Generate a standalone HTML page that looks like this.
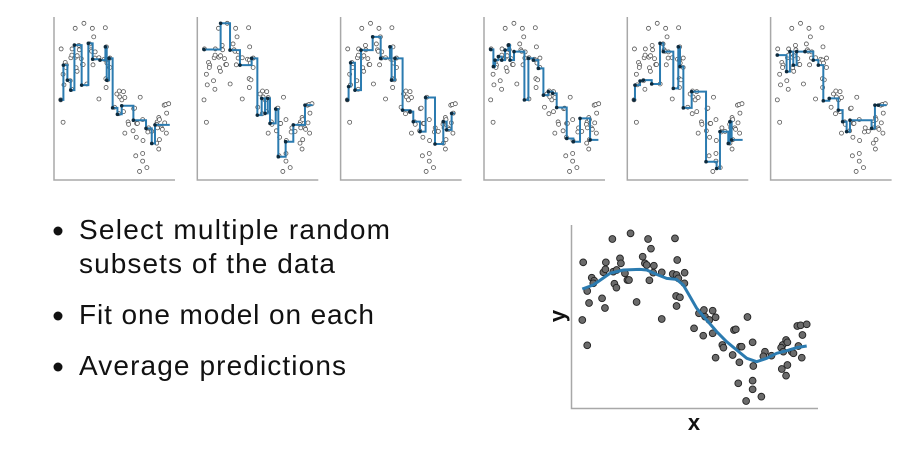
<!DOCTYPE html>
<html><head><meta charset="utf-8"><style>
html,body{margin:0;padding:0;background:#fff;}
svg{display:block;}
text{font-family:"Liberation Sans",sans-serif;}
</style></head><body>
<svg id="root" width="918" height="456" viewBox="0 0 918 456" xmlns="http://www.w3.org/2000/svg">
<g fill="#111" font-size="28">
  <circle cx="58" cy="231" r="4.5"/>
  <text x="79" y="239" textLength="311">Select multiple random</text>
  <text x="79" y="273" textLength="256">subsets of the data</text>
  <circle cx="58" cy="316" r="4.5"/>
  <text x="79" y="324" textLength="295">Fit one model on each</text>
  <circle cx="58" cy="367" r="4.5"/>
  <text x="79" y="375" textLength="267">Average predictions</text>
</g>
<g id="panels"></g>
<g id="big"></g>
</svg>
<script>
const pointsX=[0.04,0,0.22,0.3,0.22,0.42,0.53,0.49,0.88,1.01,0.94,1.05,1.03,1.34,1.43,1.52,1.38,1.53,1.68,1.72,1.9,2.01,2.08,2.15,2.42,2.69,2.79,2.87,2.93,3.06,2.99,3.19,3.16,3.54,3.54,4.03,4.13,4.23,4.2,4.28,4.18,4.2,4.35,4.56,4.55,4.98,5.2,5.42,5.39,5.47,5.81,5.66,5.94,5.81,5.94,6.24,6.29,6.76,6.84,6.7,7.03,7.0,7.1,7.36,7.59,7.62,7.59,7.59,7.3,6.95,7.98,8.14,8.07,8.43,8.89,9.08,9.14,8.93,9.08,9.14,8.86,8.96,9.33,9.41,9.58,9.73,9.81,10,9.63,9.78];
const pointsY=[1.73,0,-0.76,0.51,0.87,1.27,1.18,1.1,0.65,0.36,1.43,1.73,1.52,2.43,1.09,0.97,1.45,1.5,1.85,1.7,1.4,1.2,1.2,2.6,0.54,1.9,1.7,1.65,2.43,2.14,1.19,1.63,1.42,1.43,0.03,1.38,2.45,1.8,1.35,1.25,0.72,0.42,0.68,1.42,1.1,-0.25,0.2,0.3,-0.47,0.1,0.28,0,0.08,-0.4,-1.13,-0.75,-0.83,-0.3,-0.28,-1.05,-0.8,-1.27,-0.8,0.09,-0.67,-1.38,-1.82,-2.08,-2.43,-1.9,-2.3,-0.95,-1.09,-1.07,-1.47,-1.67,-1.35,-0.75,-0.6,-0.67,-0.83,-0.95,-0.95,-1.0,-0.18,-0.16,-0.45,-0.13,-0.78,-1.13];
const avgX=[0,0.49,1.23,1.83,2.57,2.87,3.31,3.76,4.2,4.5,4.8,5.1,5.54,5.99,6.43,6.88,7.33,7.77,8.22,8.66,9.11,9.55,10];
const avgY=[0.93,1.05,1.4,1.5,1.52,1.5,1.37,1.25,1.22,1.05,0.7,0.35,0,-0.35,-0.65,-0.9,-1.15,-1.25,-1.15,-1.0,-0.92,-0.83,-0.78];
const stepX1=[0,0.25,0.62,0.93,1.27,1.94,2.56,2.96,3.64,4.14,4.26,4.48,4.81,5.25,5.65,6.73,7.9,8.43,8.73,10.1];
const stepY1=[0,1.18,0.67,0.33,1.86,0.5,1.92,1.38,1.35,1.8,0.67,1.41,-0.27,-0.49,-0.2,-0.69,-0.97,-1.48,-0.85];
const stepX2=[0,1.54,2.41,3.33,4.41,4.94,5.34,5.65,5.9,6.11,6.64,6.88,7.56,8.27,9.35,10.06];
const stepY2=[1.71,2.6,1.69,1.18,1.41,-0.52,0.05,-0.46,0.05,-0.8,-0.31,-1.93,-1.42,-0.85,-0.18];
const stepX3=[0,0.12,0.31,0.71,1.27,2.35,3.09,3.95,4.1,4.41,5.12,5.8,6.11,6.73,7.25,8.12,8.89,9.2,9.66,9.97];
const stepY3=[0,0.45,1.26,0.33,1.69,2.14,1.41,1.8,0.67,1.41,-0.35,-0.4,-0.74,-1.08,0.08,-1.5,-0.74,-1.02,-0.46];
const stepX4=[0,0.25,0.4,0.71,1.02,1.33,1.64,1.79,2.16,3.12,3.49,3.95,4.41,4.88,5.34,5.74,6.11,7.04,7.65,8.27,9.2,9.97];
const stepY4=[1.71,1.13,1.35,1.47,1.35,1.69,1.86,1.35,1.64,0,1.41,1.35,1.07,0.16,0.28,0.22,-0.26,-1.31,-1.42,-0.63,-1.36];
const stepX5=[0,0.09,0.56,0.86,1.64,2.41,2.72,3.64,4.1,4.26,4.57,5.34,6.67,7.65,7.96,8.73,8.89,9.04,10.06];
const stepY5=[0,0.5,0.64,0.67,0.54,1.92,1.64,0.39,1.8,1.13,-0.27,0.28,-2.1,-2.33,-1.08,-1.48,-0.74,-1.36];
const stepX6=[0,0.86,1.17,1.48,1.79,2.56,3.33,3.8,4.26,4.81,5.65,6.05,6.42,6.73,8.73,9.04,9.35,10.12];
const stepY6=[1.52,0.96,1.64,1.18,1.64,1.64,1.35,1.18,-0.03,0.05,-0.35,-0.74,-1.08,-0.69,-0.97,-0.18,-0.18];
const stepXs=[stepX1,stepX2,stepX3,stepX4,stepX5,stepX6];
const stepYs=[stepY1,stepY2,stepY3,stepY4,stepY5,stepY6];

const NS='http://www.w3.org/2000/svg';
function mk(tag,attrs,parent){const e=document.createElementNS(NS,tag);for(const k in attrs)e.setAttribute(k,attrs[k]);parent.appendChild(e);return e;}

const panelsG=document.getElementById('panels');
const panelLeft=[54,197.3,340.6,484,627.3,770.6];
for(let p=0;p<6;p++){
  const ox=panelLeft[p];
  const sx=v=>ox+6.7+v*10.8;
  const sy=v=>23.3+(2.6-v)*29.45;
  const g=mk('g',{},panelsG);
  
  
  const ax=mk('path',{d:`M${ox},17 V180 H${ox+121}`,fill:'none',stroke:'#a8a8a8','stroke-width':1.5},g);
  
  
  for(let i=0;i<pointsX.length;i++){
    const c=mk('circle',{cx:sx(pointsX[i]),cy:sy(pointsY[i]),r:2,fill:'#fff',stroke:'#555','stroke-width':0.8},g);
    
    
  }
  const xs=stepXs[p],ys=stepYs[p];
  let d=`M${sx(xs[0])},${sy(ys[0])}`;
  for(let i=0;i<ys.length;i++){
    d+=` H${sx(xs[i+1])}`;
    if(i+1<ys.length)d+=` V${sy(ys[i+1])}`;
  }
  const pl=mk('path',{d:d,fill:'none',stroke:'#2b7bb0','stroke-width':2},g);
  
  
  for(let i=0;i<ys.length;i++){
    const c=mk('circle',{cx:sx(xs[i]),cy:sy(ys[i]),r:1.8,fill:'#0d2a3d'},g);
    
    
  }
}

const bigG=document.getElementById('big');
const bx=v=>582.3+v*22.44;
const by=v=>320-v*33.33;
const bax=mk('path',{d:'M571.5,225 V408.5 H818',fill:'none',stroke:'#a8a8a8','stroke-width':1.5},bigG);


for(let i=0;i<pointsX.length;i++){
  const c=mk('circle',{cx:bx(pointsX[i]),cy:by(pointsY[i]),r:3.4,fill:'#6b6b6b',stroke:'#222','stroke-width':0.9},bigG);
  
  
}
let ad='';
for(let i=0;i<avgX.length;i++)ad+=(i?' L':'M')+bx(avgX[i])+','+by(avgY[i]);
const al=mk('path',{d:ad,fill:'none',stroke:'#2b7bb0','stroke-width':3,'stroke-linejoin':'round'},bigG);


const xl=mk('text',{x:694,y:430,'font-size':22,'font-weight':'bold','text-anchor':'middle',fill:'#111'},bigG);
xl.textContent='x';


const yl=mk('text',{x:559,y:322,'font-size':22,'font-weight':'bold','text-anchor':'middle',fill:'#111',transform:'rotate(-90 559 316)'},bigG);
yl.textContent='y';


</script>
</body></html>
